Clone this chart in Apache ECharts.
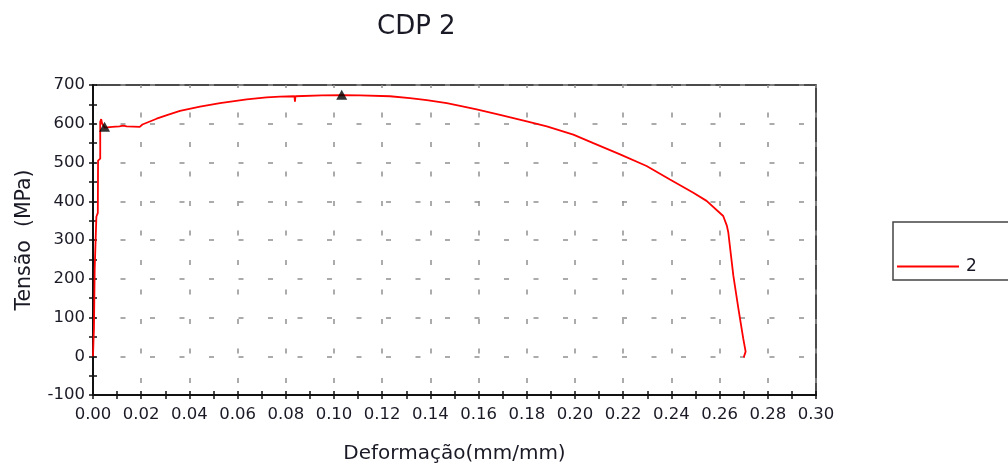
<!DOCTYPE html>
<html>
<head>
<meta charset="utf-8">
<title>CDP 2</title>
<script src="https://cdn.jsdelivr.net/npm/echarts@6/dist/echarts.min.js"></script>
<style>
  html, body { margin: 0; padding: 0; background: #fff; }
  #chart { width: 1008px; height: 469px; }
</style>
</head>
<body>
<div id="chart"></div>
<script>
// Stress–strain curve of specimen CDP 2
const strain = [
  0.0000, 0.0002, 0.0004, 0.0007, 0.0007, 0.0014, 0.0014, 0.0020, 0.0021, 0.0030,
  0.0030, 0.0034, 0.0038, 0.0049, 0.0080, 0.0110, 0.0125, 0.0140, 0.0194, 0.0205,
  0.0264, 0.0310, 0.0361, 0.0444, 0.0527, 0.0638, 0.0720, 0.0776, 0.0836, 0.0838,
  0.0840, 0.0950, 0.1032, 0.1108, 0.1232, 0.1315, 0.1385, 0.1468, 0.1523, 0.1592,
  0.1689, 0.1800, 0.1883, 0.1993, 0.2076, 0.2187, 0.2297, 0.2394, 0.2491, 0.2546,
  0.2615, 0.2630, 0.2636, 0.2657, 0.2678, 0.2698, 0.2708, 0.2700
];
const stress = [
  0, 40, 72, 75, 225, 228, 360, 370, 505, 510,
  605, 612, 600, 590, 592, 593, 595, 593, 592, 598,
  613, 623, 633, 644, 653, 663, 668, 670, 671, 657,
  671, 673, 674, 673, 671, 666, 661, 653, 646, 637,
  623, 606, 593, 572, 550, 521, 491, 456, 422, 401,
  362, 337, 320, 208, 123, 46, 12, -3
];
// Marked points: yield and maximum stress
const markStrain = [0.0048, 0.1032];
const markStress = [592, 675];

const xTicks = { min: 0, max: 0.30, interval: 0.02 };
const yTicks = { min: -100, max: 700, interval: 100 };

const curve = strain.map((s, i) => [s, stress[i]]);
const marks = markStrain.map((s, i) => [s, markStress[i]]);

const font = 'DejaVu Sans';
const textColor = '#1a1a26';
const gridDash = { color: '#909090', width: 1.5, type: [5, 24.5], dashOffset: 2 };
const tickStyle = { color: '#111', width: 1.5 };

function baseX(extra) {
  return Object.assign({
    type: 'value', min: xTicks.min, max: xTicks.max, interval: xTicks.interval,
    position: 'bottom'
  }, extra);
}
function baseY(extra) {
  return Object.assign({
    type: 'value', min: yTicks.min, max: yTicks.max, interval: yTicks.interval,
    position: 'left'
  }, extra);
}

const chart = echarts.init(document.getElementById('chart'), null, { renderer: 'canvas' });
chart.setOption({
  animation: false,
  backgroundColor: '#fff',
  title: {
    text: 'CDP 2', left: 372, top: 9,
    textStyle: { fontFamily: font, fontSize: 26, fontWeight: 'normal', color: textColor }
  },
  legend: {
    data: [{ name: '2', icon: 'rect' }], left: 893, top: 222,
    padding: [36, 50, 5, 4],
    borderColor: '#444', borderWidth: 1.5,
    itemWidth: 62, itemHeight: 2,
    itemStyle: { color: '#ff0000' },
    textStyle: { fontFamily: font, fontSize: 17, color: textColor, padding: [0, 0, 0, 2] }
  },
  grid: {
    left: 93, top: 85, width: 723, height: 312,
    show: true, borderColor: '#111', borderWidth: 1.5, backgroundColor: 'transparent'
  },
  xAxis: [
    baseX({
      name: 'Deformação(mm/mm)', nameLocation: 'middle', nameGap: 49,
      nameTextStyle: { fontFamily: font, fontSize: 20, color: textColor },
      axisLine: { show: true, onZero: false, lineStyle: { color: '#111', width: 2 } },
      axisTick: { show: true, inside: false, length: 4, lineStyle: tickStyle },
      minorTick: { show: true, splitNumber: 2, length: 4, lineStyle: tickStyle },
      axisLabel: {
        fontFamily: font, fontSize: 16.5, color: textColor, margin: 11,
        formatter: v => v.toFixed(2)
      },
      splitLine: { show: true, lineStyle: gridDash }
    }),
    baseX({
      axisLine: { show: false, onZero: false },
      axisTick: { show: true, inside: true, length: 4, lineStyle: tickStyle },
      minorTick: { show: true, splitNumber: 2, length: 4, lineStyle: tickStyle },
      axisLabel: { show: false },
      splitLine: { show: false }
    })
  ],
  yAxis: [
    baseY({
      name: 'Tensão  (MPa)', nameLocation: 'middle', nameGap: 58, nameRotate: 90,
      nameTextStyle: { fontFamily: font, fontSize: 20.5, color: textColor },
      axisLine: { show: true, onZero: false, lineStyle: { color: '#111', width: 2 } },
      axisTick: { show: true, inside: false, length: 4, lineStyle: tickStyle },
      minorTick: { show: true, splitNumber: 2, length: 4, lineStyle: tickStyle },
      axisLabel: { fontFamily: font, fontSize: 16.5, color: textColor, margin: 8 },
      splitLine: { show: true, lineStyle: gridDash }
    }),
    baseY({
      axisLine: { show: false, onZero: false },
      axisTick: { show: true, inside: true, length: 4, lineStyle: tickStyle },
      minorTick: { show: true, splitNumber: 2, length: 4, lineStyle: tickStyle },
      axisLabel: { show: false },
      splitLine: { show: false }
    })
  ],
  series: [
    {
      name: '2', type: 'line', data: curve,
      xAxisIndex: 0, yAxisIndex: 0,
      symbol: 'none', showSymbol: false,
      lineStyle: { color: '#ff0000', width: 1.8 },
      itemStyle: { color: '#ff0000' },
      z: 3
    },
    {
      name: 'marks', type: 'scatter', data: marks,
      xAxisIndex: 0, yAxisIndex: 0,
      symbol: 'triangle', symbolSize: [11, 10],
      itemStyle: { color: '#000' },
      z: 4
    }
  ]
});
</script>
</body>
</html>
